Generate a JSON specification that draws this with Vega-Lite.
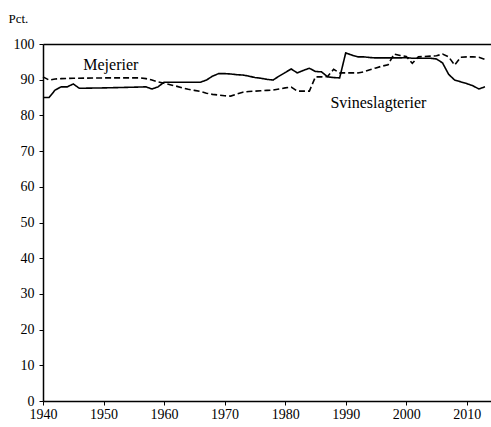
{
  "$schema": "https://vega.github.io/schema/vega-lite/v6.json",
  "autosize": "none",
  "width": 448,
  "height": 357,
  "padding": {"left": 43, "top": 44, "right": 0, "bottom": 26},
  "background": "white",
  "config": {
    "view": {"stroke": null},
    "font": "Liberation Serif",
    "axis": {
      "labelFont": "Liberation Serif",
      "labelFontSize": 14,
      "labelColor": "black",
      "labelOverlap": false,
      "domainColor": "black",
      "domainWidth": 1.5,
      "tickColor": "black",
      "tickSize": 4,
      "grid": false,
      "titleFont": "Liberation Serif",
      "titleFontWeight": "normal",
      "titleColor": "black"
    }
  },
  "resolve": {"axis": {"x": "independent", "y": "independent"}},
  "datasets": {
    "lines": [
      {"serie": "Svineslagterier", "year": 1940, "value": 85.0},
      {"serie": "Svineslagterier", "year": 1941, "value": 85.0},
      {"serie": "Svineslagterier", "year": 1942, "value": 87.1},
      {"serie": "Svineslagterier", "year": 1943, "value": 88.0},
      {"serie": "Svineslagterier", "year": 1944, "value": 88.0},
      {"serie": "Svineslagterier", "year": 1945, "value": 88.8},
      {"serie": "Svineslagterier", "year": 1946, "value": 87.6},
      {"serie": "Svineslagterier", "year": 1950, "value": 87.7},
      {"serie": "Svineslagterier", "year": 1955, "value": 87.9},
      {"serie": "Svineslagterier", "year": 1957, "value": 88.0},
      {"serie": "Svineslagterier", "year": 1958, "value": 87.4},
      {"serie": "Svineslagterier", "year": 1959, "value": 88.0},
      {"serie": "Svineslagterier", "year": 1960, "value": 89.3},
      {"serie": "Svineslagterier", "year": 1962, "value": 89.3},
      {"serie": "Svineslagterier", "year": 1964, "value": 89.3},
      {"serie": "Svineslagterier", "year": 1966, "value": 89.3},
      {"serie": "Svineslagterier", "year": 1967, "value": 89.9},
      {"serie": "Svineslagterier", "year": 1968, "value": 91.0},
      {"serie": "Svineslagterier", "year": 1969, "value": 91.7},
      {"serie": "Svineslagterier", "year": 1970, "value": 91.7},
      {"serie": "Svineslagterier", "year": 1971, "value": 91.6},
      {"serie": "Svineslagterier", "year": 1972, "value": 91.4},
      {"serie": "Svineslagterier", "year": 1973, "value": 91.3},
      {"serie": "Svineslagterier", "year": 1974, "value": 91.0},
      {"serie": "Svineslagterier", "year": 1975, "value": 90.6},
      {"serie": "Svineslagterier", "year": 1976, "value": 90.4},
      {"serie": "Svineslagterier", "year": 1977, "value": 90.1},
      {"serie": "Svineslagterier", "year": 1978, "value": 89.9},
      {"serie": "Svineslagterier", "year": 1979, "value": 91.0},
      {"serie": "Svineslagterier", "year": 1980, "value": 92.0},
      {"serie": "Svineslagterier", "year": 1981, "value": 93.0},
      {"serie": "Svineslagterier", "year": 1982, "value": 91.9},
      {"serie": "Svineslagterier", "year": 1983, "value": 92.6},
      {"serie": "Svineslagterier", "year": 1984, "value": 93.2},
      {"serie": "Svineslagterier", "year": 1985, "value": 92.3},
      {"serie": "Svineslagterier", "year": 1986, "value": 92.2},
      {"serie": "Svineslagterier", "year": 1987, "value": 90.8},
      {"serie": "Svineslagterier", "year": 1988, "value": 90.6},
      {"serie": "Svineslagterier", "year": 1989, "value": 90.5},
      {"serie": "Svineslagterier", "year": 1990, "value": 97.5},
      {"serie": "Svineslagterier", "year": 1991, "value": 96.9},
      {"serie": "Svineslagterier", "year": 1992, "value": 96.4},
      {"serie": "Svineslagterier", "year": 1993, "value": 96.4},
      {"serie": "Svineslagterier", "year": 1994, "value": 96.2},
      {"serie": "Svineslagterier", "year": 1995, "value": 96.1},
      {"serie": "Svineslagterier", "year": 1996, "value": 96.1},
      {"serie": "Svineslagterier", "year": 1997, "value": 96.1},
      {"serie": "Svineslagterier", "year": 1998, "value": 96.1},
      {"serie": "Svineslagterier", "year": 1999, "value": 96.1},
      {"serie": "Svineslagterier", "year": 2000, "value": 96.2},
      {"serie": "Svineslagterier", "year": 2001, "value": 96.0},
      {"serie": "Svineslagterier", "year": 2002, "value": 96.0},
      {"serie": "Svineslagterier", "year": 2003, "value": 96.0},
      {"serie": "Svineslagterier", "year": 2004, "value": 96.0},
      {"serie": "Svineslagterier", "year": 2005, "value": 95.8},
      {"serie": "Svineslagterier", "year": 2006, "value": 94.7},
      {"serie": "Svineslagterier", "year": 2007, "value": 91.5},
      {"serie": "Svineslagterier", "year": 2008, "value": 89.9},
      {"serie": "Svineslagterier", "year": 2009, "value": 89.4},
      {"serie": "Svineslagterier", "year": 2010, "value": 88.9},
      {"serie": "Svineslagterier", "year": 2011, "value": 88.3},
      {"serie": "Svineslagterier", "year": 2012, "value": 87.4},
      {"serie": "Svineslagterier", "year": 2013, "value": 88.0},
      {"serie": "Mejerier", "year": 1940, "value": 90.8},
      {"serie": "Mejerier", "year": 1941, "value": 89.9},
      {"serie": "Mejerier", "year": 1942, "value": 90.2},
      {"serie": "Mejerier", "year": 1943, "value": 90.3},
      {"serie": "Mejerier", "year": 1945, "value": 90.4},
      {"serie": "Mejerier", "year": 1950, "value": 90.5},
      {"serie": "Mejerier", "year": 1955, "value": 90.5},
      {"serie": "Mejerier", "year": 1956, "value": 90.5},
      {"serie": "Mejerier", "year": 1957, "value": 90.3},
      {"serie": "Mejerier", "year": 1958, "value": 89.9},
      {"serie": "Mejerier", "year": 1959, "value": 89.4},
      {"serie": "Mejerier", "year": 1960, "value": 89.0},
      {"serie": "Mejerier", "year": 1961, "value": 88.6},
      {"serie": "Mejerier", "year": 1962, "value": 88.2},
      {"serie": "Mejerier", "year": 1963, "value": 87.7},
      {"serie": "Mejerier", "year": 1964, "value": 87.3},
      {"serie": "Mejerier", "year": 1965, "value": 87.0},
      {"serie": "Mejerier", "year": 1966, "value": 86.7},
      {"serie": "Mejerier", "year": 1967, "value": 86.2},
      {"serie": "Mejerier", "year": 1968, "value": 85.9},
      {"serie": "Mejerier", "year": 1969, "value": 85.7},
      {"serie": "Mejerier", "year": 1970, "value": 85.5},
      {"serie": "Mejerier", "year": 1971, "value": 85.4},
      {"serie": "Mejerier", "year": 1972, "value": 86.0},
      {"serie": "Mejerier", "year": 1973, "value": 86.5},
      {"serie": "Mejerier", "year": 1974, "value": 86.7},
      {"serie": "Mejerier", "year": 1975, "value": 86.8},
      {"serie": "Mejerier", "year": 1976, "value": 86.9},
      {"serie": "Mejerier", "year": 1977, "value": 87.0},
      {"serie": "Mejerier", "year": 1978, "value": 87.1},
      {"serie": "Mejerier", "year": 1979, "value": 87.4},
      {"serie": "Mejerier", "year": 1980, "value": 87.7},
      {"serie": "Mejerier", "year": 1981, "value": 87.9},
      {"serie": "Mejerier", "year": 1982, "value": 86.8},
      {"serie": "Mejerier", "year": 1983, "value": 86.8},
      {"serie": "Mejerier", "year": 1984, "value": 86.8},
      {"serie": "Mejerier", "year": 1985, "value": 90.8},
      {"serie": "Mejerier", "year": 1986, "value": 90.8},
      {"serie": "Mejerier", "year": 1987, "value": 90.9},
      {"serie": "Mejerier", "year": 1988, "value": 92.9},
      {"serie": "Mejerier", "year": 1989, "value": 91.9},
      {"serie": "Mejerier", "year": 1990, "value": 91.9},
      {"serie": "Mejerier", "year": 1991, "value": 91.9},
      {"serie": "Mejerier", "year": 1992, "value": 91.9},
      {"serie": "Mejerier", "year": 1993, "value": 92.2},
      {"serie": "Mejerier", "year": 1994, "value": 92.8},
      {"serie": "Mejerier", "year": 1995, "value": 93.3},
      {"serie": "Mejerier", "year": 1996, "value": 93.8},
      {"serie": "Mejerier", "year": 1997, "value": 94.2},
      {"serie": "Mejerier", "year": 1998, "value": 97.2},
      {"serie": "Mejerier", "year": 1999, "value": 96.8},
      {"serie": "Mejerier", "year": 2000, "value": 96.5},
      {"serie": "Mejerier", "year": 2001, "value": 94.6},
      {"serie": "Mejerier", "year": 2002, "value": 96.4},
      {"serie": "Mejerier", "year": 2003, "value": 96.5},
      {"serie": "Mejerier", "year": 2004, "value": 96.6},
      {"serie": "Mejerier", "year": 2005, "value": 96.7},
      {"serie": "Mejerier", "year": 2006, "value": 97.2},
      {"serie": "Mejerier", "year": 2007, "value": 96.4},
      {"serie": "Mejerier", "year": 2008, "value": 94.1},
      {"serie": "Mejerier", "year": 2009, "value": 96.3},
      {"serie": "Mejerier", "year": 2010, "value": 96.4},
      {"serie": "Mejerier", "year": 2011, "value": 96.4},
      {"serie": "Mejerier", "year": 2012, "value": 96.3},
      {"serie": "Mejerier", "year": 2013, "value": 95.7}
    ],
    "labels": [
      {"label": "Mejerier", "year": 1951.2, "value": 94.2},
      {"label": "Svineslagterier", "year": 1995.4, "value": 83.4}
    ]
  },
  "layer": [
    {
      "data": {"name": "lines"},
      "mark": {"type": "line", "color": "black", "strokeWidth": 1.6},
      "encoding": {
        "x": {
          "field": "year",
          "type": "quantitative",
          "scale": {"domain": [1940, 2014], "nice": false, "zero": false},
          "axis": {"values": [1940, 1950, 1960, 1970, 1980, 1990, 2000, 2010], "format": "d", "title": null, "labelPadding": 2, "labelFlush": false, "labelFont": "Liberation Serif", "labelFontSize": 14, "labelOverlap": false}
        },
        "y": {
          "field": "value",
          "type": "quantitative",
          "scale": {"domain": [0, 100], "nice": false},
          "axis": {
            "values": [0, 10, 20, 30, 40, 50, 60, 70, 80, 90, 100],
            "labelOverlap": false,
            "labelFont": "Liberation Serif",
            "labelFontSize": 14,
            "title": "Pct.",
            "titleAngle": 0,
            "titleAlign": "left",
            "titleBaseline": "middle",
            "titleX": -35,
            "titleY": -26,
            "titleFontSize": 13,
            "labelPadding": 5
          }
        },
        "strokeDash": {
          "field": "serie",
          "type": "nominal",
          "scale": {"domain": ["Svineslagterier", "Mejerier"], "range": [[1, 0], [6, 3]]},
          "legend": null
        },
        "detail": {"field": "serie"}
      }
    },
    {
      "data": {"name": "lines"},
      "mark": {"type": "line", "opacity": 0},
      "encoding": {
        "x": {
          "field": "year",
          "type": "quantitative",
          "axis": {"orient": "top", "labels": false, "ticks": false, "title": null, "domain": true, "domainColor": "black", "domainWidth": 1.5}
        },
        "y": {"field": "value", "type": "quantitative", "axis": null},
        "detail": {"field": "serie"}
      }
    },
    {
      "data": {"name": "labels"},
      "mark": {"type": "text", "font": "Liberation Serif", "fontSize": 16, "color": "black", "align": "center", "baseline": "middle"},
      "encoding": {
        "x": {"field": "year", "type": "quantitative", "axis": null},
        "y": {"field": "value", "type": "quantitative", "axis": null},
        "text": {"field": "label"}
      }
    }
  ]
}
